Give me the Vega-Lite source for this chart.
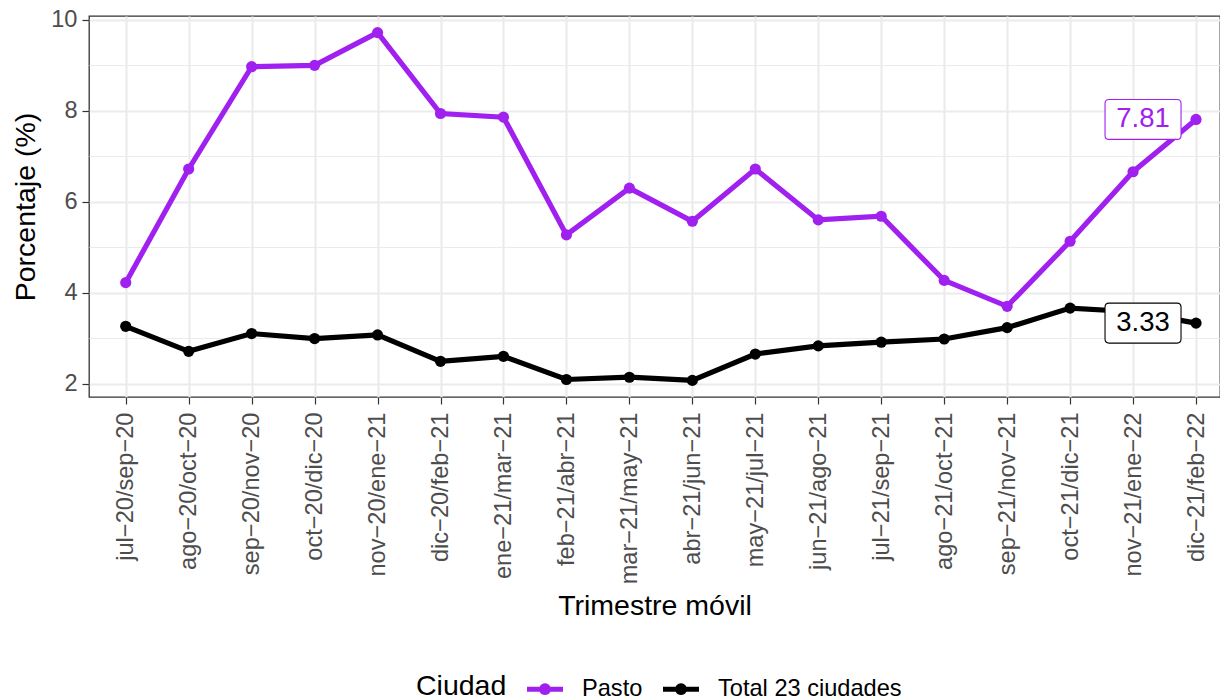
{
  "$schema": "https://vega.github.io/schema/vega-lite/v6.json",
  "autosize": {"type": "none"},
  "padding": {"left": 89, "top": 16, "right": 0, "bottom": 303},
  "width": 1131,
  "height": 381,
  "background": "white",
  "config": {
    "font": "Liberation Sans",
    "view": {"stroke": "#333333", "strokeWidth": 1.3}
  },
  "data": {
    "values": [
      {"periodo": "jul−20/sep−20", "Ciudad": "Pasto", "valor": 4.22},
      {"periodo": "ago−20/oct−20", "Ciudad": "Pasto", "valor": 6.72},
      {"periodo": "sep−20/nov−20", "Ciudad": "Pasto", "valor": 8.97},
      {"periodo": "oct−20/dic−20", "Ciudad": "Pasto", "valor": 9.0},
      {"periodo": "nov−20/ene−21", "Ciudad": "Pasto", "valor": 9.72},
      {"periodo": "dic−20/feb−21", "Ciudad": "Pasto", "valor": 7.94},
      {"periodo": "ene−21/mar−21", "Ciudad": "Pasto", "valor": 7.86},
      {"periodo": "feb−21/abr−21", "Ciudad": "Pasto", "valor": 5.27},
      {"periodo": "mar−21/may−21", "Ciudad": "Pasto", "valor": 6.3},
      {"periodo": "abr−21/jun−21", "Ciudad": "Pasto", "valor": 5.57},
      {"periodo": "may−21/jul−21", "Ciudad": "Pasto", "valor": 6.72},
      {"periodo": "jun−21/ago−21", "Ciudad": "Pasto", "valor": 5.6},
      {"periodo": "jul−21/sep−21", "Ciudad": "Pasto", "valor": 5.68},
      {"periodo": "ago−21/oct−21", "Ciudad": "Pasto", "valor": 4.27},
      {"periodo": "sep−21/nov−21", "Ciudad": "Pasto", "valor": 3.7},
      {"periodo": "oct−21/dic−21", "Ciudad": "Pasto", "valor": 5.13},
      {"periodo": "nov−21/ene−22", "Ciudad": "Pasto", "valor": 6.66},
      {"periodo": "dic−21/feb−22", "Ciudad": "Pasto", "valor": 7.81},
      {"periodo": "jul−20/sep−20", "Ciudad": "Total 23 ciudades", "valor": 3.26},
      {"periodo": "ago−20/oct−20", "Ciudad": "Total 23 ciudades", "valor": 2.71},
      {"periodo": "sep−20/nov−20", "Ciudad": "Total 23 ciudades", "valor": 3.1},
      {"periodo": "oct−20/dic−20", "Ciudad": "Total 23 ciudades", "valor": 2.99},
      {"periodo": "nov−20/ene−21", "Ciudad": "Total 23 ciudades", "valor": 3.07},
      {"periodo": "dic−20/feb−21", "Ciudad": "Total 23 ciudades", "valor": 2.49},
      {"periodo": "ene−21/mar−21", "Ciudad": "Total 23 ciudades", "valor": 2.6},
      {"periodo": "feb−21/abr−21", "Ciudad": "Total 23 ciudades", "valor": 2.09},
      {"periodo": "mar−21/may−21", "Ciudad": "Total 23 ciudades", "valor": 2.14},
      {"periodo": "abr−21/jun−21", "Ciudad": "Total 23 ciudades", "valor": 2.07},
      {"periodo": "may−21/jul−21", "Ciudad": "Total 23 ciudades", "valor": 2.65},
      {"periodo": "jun−21/ago−21", "Ciudad": "Total 23 ciudades", "valor": 2.83},
      {"periodo": "jul−21/sep−21", "Ciudad": "Total 23 ciudades", "valor": 2.91},
      {"periodo": "ago−21/oct−21", "Ciudad": "Total 23 ciudades", "valor": 2.98},
      {"periodo": "sep−21/nov−21", "Ciudad": "Total 23 ciudades", "valor": 3.23},
      {"periodo": "oct−21/dic−21", "Ciudad": "Total 23 ciudades", "valor": 3.66},
      {"periodo": "nov−21/ene−22", "Ciudad": "Total 23 ciudades", "valor": 3.58},
      {"periodo": "dic−21/feb−22", "Ciudad": "Total 23 ciudades", "valor": 3.33}
    ]
  },
  "encoding": {
    "x": {
      "field": "periodo",
      "type": "ordinal",
      "scale": {
        "type": "point",
        "domain": ["jul−20/sep−20", "ago−20/oct−20", "sep−20/nov−20", "oct−20/dic−20", "nov−20/ene−21", "dic−20/feb−21", "ene−21/mar−21", "feb−21/abr−21", "mar−21/may−21", "abr−21/jun−21", "may−21/jul−21", "jun−21/ago−21", "jul−21/sep−21", "ago−21/oct−21", "sep−21/nov−21", "oct−21/dic−21", "nov−21/ene−22", "dic−21/feb−22"],
        "padding": 0.482,
        "align": 0.605
      },
      "axis": {
        "title": "Trimestre móvil",
        "titleFontSize": 28.5,
        "titleFontWeight": "normal",
        "titleColor": "black",
        "titlePadding": 8,
        "labelFontSize": 23.6,
        "labelColor": "#4D4D4D",
        "labelAngle": -90,
        "labelPadding": 8,
        "labelOverlap": false,
        "labelLimit": 400,
        "tickSize": 7,
        "tickColor": "#333333",
        "tickWidth": 1.2,
        "domain": false,
        "grid": true,
        "gridColor": "#EBEBEB",
        "gridWidth": 2.1
      }
    },
    "y": {
      "field": "valor",
      "type": "quantitative",
      "scale": {"domain": [1.705, 10.085], "nice": false, "zero": false},
      "axis": {
        "title": "Porcentaje (%)",
        "titleFontSize": 28.5,
        "titleFontWeight": "normal",
        "titleColor": "black",
        "titlePadding": 10,
        "values": [2, 3, 4, 5, 6, 7, 8, 9, 10],
        "labelExpr": "datum.value % 2 === 0 ? datum.label : ''",
        "labelFontSize": 23.6,
        "labelColor": "#4D4D4D",
        "labelPadding": 5,
        "tickSize": 7,
        "tickColor": "#333333",
        "tickWidth": 1.2,
        "tickOpacity": {"condition": {"test": "datum.value % 2 === 0", "value": 1}, "value": 0},
        "domain": false,
        "grid": true,
        "gridColor": "#EBEBEB",
        "gridWidth": {"condition": {"test": "datum.value % 2 === 0", "value": 2.1}, "value": 1.1}
      }
    }
  },
  "layer": [
    {
      "mark": {"type": "line", "strokeWidth": 5.2, "point": {"filled": true, "size": 125}},
      "encoding": {
        "color": {
          "field": "Ciudad",
          "type": "nominal",
          "scale": {"domain": ["Pasto", "Total 23 ciudades"], "range": ["#A020F0", "#000000"]},
          "legend": {
            "orient": "none",
            "direction": "horizontal",
            "legendX": 327,
            "legendY": 655,
            "title": "Ciudad",
            "titleOrient": "left",
            "titleFontSize": 28.5,
            "titleFontWeight": "normal",
            "titleColor": "black",
            "titlePadding": 20,
            "labelFontSize": 23.6,
            "labelColor": "black",
            "labelLimit": 400,
            "labelOffset": 19,
            "columnPadding": 20,
            "symbolType": "M-1,-0.139L-0.294,-0.139A0.325,0.325,0,0,1,0.294,-0.139L1,-0.139L1,0.139L0.294,0.139A0.325,0.325,0,0,1,-0.294,0.139L-1,0.139Z",
            "symbolSize": 1296,
            "symbolStrokeWidth": 0,
            "encode": {"symbols": {"update": {"fill": {"scale": "color", "field": "value"}, "opacity": {"value": 1}}}}
          }
        }
      }
    },
    {
      "transform": [{"filter": "datum.periodo === 'dic−21/feb−22'"}],
      "mark": {
        "type": "point",
        "shape": "M-0.895,-0.526L0.895,-0.526Q1,-0.526,1,-0.421L1,0.421Q1,0.526,0.895,0.526L-0.895,0.526Q-1,0.526,-1,0.421L-1,-0.421Q-1,-0.526,-0.895,-0.526Z",
        "size": 5776,
        "filled": true,
        "fill": "white",
        "strokeWidth": 1.1,
        "opacity": 1,
        "xOffset": -53
      },
      "encoding": {
        "stroke": {
          "field": "Ciudad",
          "type": "nominal",
          "scale": {"domain": ["Pasto", "Total 23 ciudades"], "range": ["#A020F0", "#000000"]},
          "legend": null
        }
      }
    },
    {
      "transform": [{"filter": "datum.periodo === 'dic−21/feb−22'"}],
      "mark": {"type": "text", "fontSize": 27.5, "align": "center", "baseline": "middle", "xOffset": -53},
      "encoding": {
        "text": {"field": "valor", "type": "quantitative", "format": ".2f"},
        "fill": {
          "field": "Ciudad",
          "type": "nominal",
          "scale": {"domain": ["Pasto", "Total 23 ciudades"], "range": ["#A020F0", "#000000"]},
          "legend": null
        }
      }
    }
  ]
}
